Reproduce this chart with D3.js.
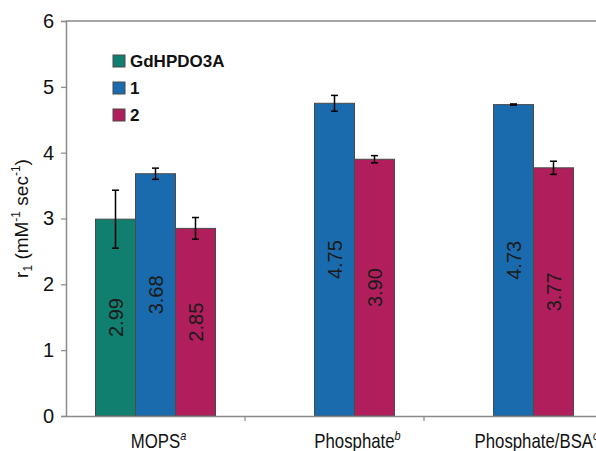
<!DOCTYPE html>
<html><head><meta charset="utf-8">
<script src="https://cdn.jsdelivr.net/npm/d3@7"></script>
<style>
html,body{margin:0;padding:0;background:#fff;}
text{font-family:"Liberation Sans",Arial,sans-serif;}
</style></head>
<body><svg id="chart" width="596" height="451"></svg>
<script>
const categories = ["MOPS", "Phosphate", "Phosphate/BSA"];
const catSup = ["a", "b", "c"];
const series = ["GdHPDO3A", "1", "2"];
const gdValues  = [2.99, null, null];
const oneValues = [3.68, 4.75, 4.73];
const twoValues = [2.85, 3.90, 3.77];
const gdErr  = [0.44, null, null];
const oneErr = [0.085, 0.12, 0.01];
const twoErr = [0.165, 0.055, 0.10];
const yTicks = [0, 1, 2, 3, 4, 5, 6];
const colors = ["#117f70", "#1a6bad", "#b01f5c"];

const valuesBySeries = [gdValues, oneValues, twoValues];
const errBySeries = [gdErr, oneErr, twoErr];

const svg = d3.select("#chart");
const x = d3.scaleBand().domain(categories).range([66, 603]);
const xi = d3.scaleBand().domain(series).range([-60, 60]);
const y = d3.scaleLinear().domain([0, 6]).range([416, 21]);

const rows = [];
series.forEach((s, si) => categories.forEach((c, ci) => {
  const v = valuesBySeries[si][ci];
  if (v != null) rows.push({s, si, c, ci, v, e: errBySeries[si][ci]});
}));

// frame top
svg.append("line").attr("x1", 66).attr("x2", 603).attr("y1", y(6)).attr("y2", y(6))
  .attr("stroke", "#8a8a8a").attr("stroke-width", 1.5);

// bars
const cx = d => x(d.c) + x.bandwidth() / 2 + xi(d.s);
svg.append("g").selectAll("rect").data(rows).join("rect")
  .attr("x", d => cx(d)).attr("width", xi.bandwidth())
  .attr("y", d => y(d.v)).attr("height", d => y(0) - y(d.v))
  .attr("fill", d => colors[d.si]).attr("stroke", "#4a4a4a").attr("stroke-width", 1);

// error bars
const eg = svg.append("g").attr("stroke", "#000").attr("stroke-width", 1.5);
rows.forEach(d => {
  const mx = cx(d) + xi.bandwidth() / 2;
  eg.append("line").attr("x1", mx).attr("x2", mx).attr("y1", y(d.v + d.e)).attr("y2", y(d.v - d.e));
  [d.v + d.e, d.v - d.e].forEach(t => eg.append("line").attr("x1", mx - 3.5).attr("x2", mx + 3.5).attr("y1", y(t)).attr("y2", y(t)));
});

// value labels
svg.append("g").selectAll("text").data(rows).join("text")
  .attr("transform", d => `translate(${cx(d) + xi.bandwidth() / 2},${y(d.v / 2)}) rotate(-90)`)
  .attr("text-anchor", "middle").attr("dominant-baseline", "central")
  .attr("font-size", 20).attr("fill", "#1a1a1a")
  .text(d => d.v.toFixed(2));

// y axis
const ya = svg.append("g").attr("transform", "translate(66,0)")
  .call(d3.axisLeft(y).tickValues(yTicks).tickFormat(d3.format("d")).tickSize(5).tickPadding(7));
ya.select(".domain").attr("stroke", "#8a8a8a").attr("stroke-width", 1.5);
ya.selectAll(".tick line").attr("stroke", "#8a8a8a").attr("stroke-width", 1.2);
ya.selectAll(".tick text").attr("font-size", 20).attr("fill", "#111")
  .attr("font-family", "Liberation Sans, Arial, sans-serif");

// x axis
const xa = svg.append("g").attr("transform", `translate(0,${y(0)})`)
  .call(d3.axisBottom(x).tickSize(0).tickFormat(""));
xa.select(".domain").attr("stroke", "#8a8a8a").attr("stroke-width", 1.5);
xa.selectAll(".tick").remove();
const bounds = categories.map(c => x(c)).concat([x.range()[1]]);
xa.selectAll("line.sep").data(bounds.slice(1)).join("line").attr("class", "sep")
  .attr("x1", d => d).attr("x2", d => d).attr("y1", 0).attr("y2", 5)
  .attr("stroke", "#8a8a8a").attr("stroke-width", 1.2);

// category labels, centred under the bars that are present
categories.forEach((c, i) => {
  const present = rows.filter(r => r.ci === i);
  const lo = d3.min(present, cx), hi = d3.max(present, d => cx(d) + xi.bandwidth());
  const t = svg.append("text")
    .attr("transform", `translate(${(lo + hi) / 2 + 3},448) scale(0.84,1)`)
    .attr("text-anchor", "middle").attr("font-size", 20).attr("fill", "#111");
  t.append("tspan").text(c);
  t.append("tspan").attr("dy", -8).attr("font-size", 13).attr("font-style", "italic").text(catSup[i]);
});

// y label
const yl = svg.append("text").attr("transform", `translate(28,${(y(0) + y(6)) / 2}) rotate(-90)`)
  .attr("text-anchor", "middle").attr("font-size", 19).attr("fill", "#111");
yl.append("tspan").text("r");
yl.append("tspan").attr("font-size", 12).attr("dy", 4).text("1");
yl.append("tspan").attr("dy", -4).text(" (mM");
yl.append("tspan").attr("font-size", 12).attr("dy", -8).text("-1");
yl.append("tspan").attr("dy", 8).text(" sec");
yl.append("tspan").attr("font-size", 12).attr("dy", -8).text("-1");
yl.append("tspan").attr("dy", 8).text(")");

// legend
const lg = svg.append("g").attr("transform", "translate(113,61)");
series.forEach((s, i) => {
  const r = lg.append("g").attr("transform", `translate(0,${i * 27})`);
  r.append("rect").attr("x", 0).attr("y", -6).attr("width", 12).attr("height", 12)
    .attr("fill", colors[i]).attr("stroke", "#4a4a4a").attr("stroke-width", 1);
  r.append("text").attr("x", 17).attr("dominant-baseline", "central")
    .attr("font-size", 17).attr("font-weight", "bold").attr("fill", "#111").text(s);
});
</script></body></html>
